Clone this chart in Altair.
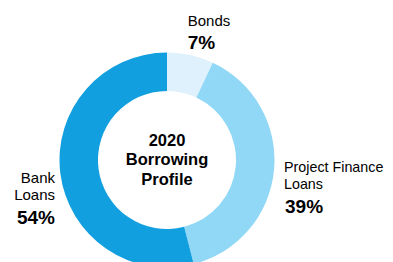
import altair as alt
import pandas as pd

categories = ["Bonds", "Project Finance Loans", "Bank Loans"]
values = [7, 39, 54]
colors = ["#dff1fc", "#90d8f6", "#119fdf"]
label_lines = [["Bonds"], ["Project Finance", "Loans"], ["Bank", "Loans"]]
center_lines = ["2020", "Borrowing", "Profile"]

df = pd.DataFrame({"category": categories, "value": values, "idx": list(range(len(values)))})

FONT = "Liberation Sans, Arial, Helvetica, sans-serif"
CX, CY = 159, 152

base = alt.Chart(df)
arc = base.mark_arc(outerRadius=107.5, innerRadius=69).encode(
    theta=alt.Theta("value:Q", stack=True),
    order=alt.Order("idx:Q"),
    color=alt.Color("category:N", scale=alt.Scale(domain=categories, range=colors), legend=None),
    x=alt.value(CX),
    y=alt.value(CY),
)

layers = [arc]

def txt(lines, x, y, align, size, weight, lh):
    return alt.Chart(df).transform_filter("datum.idx == 0").mark_text(
        align=align, baseline="alphabetic", font=FONT, fontSize=size, fontWeight=weight,
        lineHeight=lh, color="#000000"
    ).encode(x=alt.value(x), y=alt.value(y), text=alt.value(lines))

layers.append(txt(center_lines, CX, 137.7, "center", 16.5, "bold", 19.8))
# Bonds
layers.append(txt(label_lines[0], 179.7, 18, "left", 15, "normal", 17.5))
layers.append(txt(f"{values[0]}%", 179.7, 41, "left", 19, "bold", 20))
# Project Finance Loans
layers.append(txt(label_lines[1], 276, 163.7, "left", 14.3, "normal", 17.6))
layers.append(txt(f"{values[1]}%", 277, 204.7, "left", 19, "bold", 20))
# Bank Loans
layers.append(txt(label_lines[2], 47, 174.7, "right", 15, "normal", 17.4))
layers.append(txt(f"{values[2]}%", 47, 216, "right", 19, "bold", 20))

chart = alt.layer(*layers).properties(
    width=377, height=254, padding=0, autosize=alt.AutoSizeParams(type="none")
).configure_view(stroke=None)

chart.save("out.html", embed_options={"renderer": "svg", "actions": False})
